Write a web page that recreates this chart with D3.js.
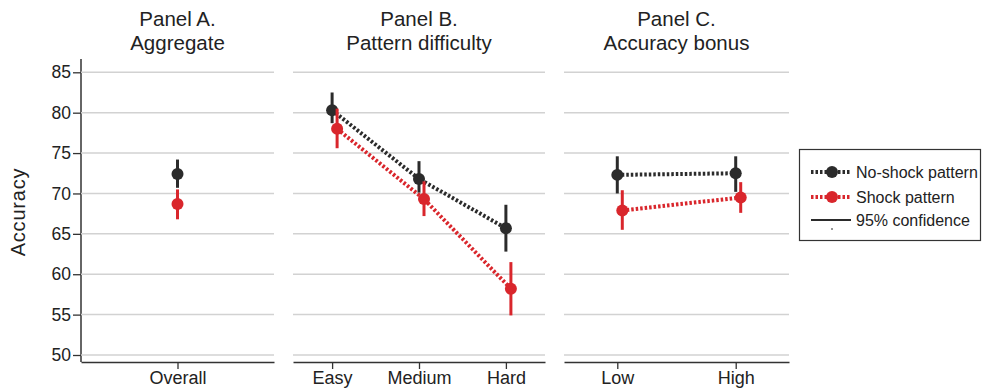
<!DOCTYPE html>
<html>
<head>
<meta charset="utf-8">
<script src="https://cdn.jsdelivr.net/npm/d3@7"></script>
<style>
  body { margin: 0; background: #fff; }
  svg { font-family: "Liberation Sans", Arial, sans-serif; }
</style>
</head>
<body>
<svg id="chart" width="982" height="391"></svg>
<script>
const yTicks = [50, 55, 60, 65, 70, 75, 80, 85];
const panelTitles = [["Panel A.", "Aggregate"], ["Panel B.", "Pattern difficulty"], ["Panel C.", "Accuracy bonus"]];
const panelCats = [["Overall"], ["Easy", "Medium", "Hard"], ["Low", "High"]];

// means and 95% CI per panel
const noShockMean = [[72.4], [80.3, 71.8, 65.7], [72.3, 72.5]];
const noShockLo = [[70.7], [78.7, 70.1, 62.8], [70.0, 70.2]];
const noShockHi = [[74.2], [82.5, 74.0, 68.6], [74.6, 74.6]];
const shockMean = [[68.7], [78.0, 69.3, 58.2], [67.9, 69.5]];
const shockLo = [[66.8], [75.6, 67.2, 54.9], [65.5, 67.6]];
const shockHi = [[70.5], [80.5, 71.5, 61.5], [70.4, 71.4]];

const legendLabels = ["No-shock pattern", "Shock pattern", "95% confidence"];

const black = '#2b2b2b', red = '#d9262c';
const svg = d3.select('#chart');

const y = d3.scaleLinear().domain([50, 85]).range([355, 72.3]);
const panelX = [[81, 274], [293, 545], [564, 789]];
const axisY = 362;

// y axis label
svg.append('text')
  .attr('transform', 'translate(25,212) rotate(-90)')
  .attr('text-anchor', 'middle')
  .style('font-size', '20px')
  .style('letter-spacing', '0.8px')
  .style('fill', '#222')
  .text('Accuracy');

// y axis ticks (panel A only)
const yAxis = svg.append('g')
  .attr('transform', `translate(${panelX[0][0]},0)`)
  .call(d3.axisLeft(y).tickValues(yTicks).tickSize(8).tickPadding(2));
yAxis.select('.domain').remove();
yAxis.selectAll('line').attr('stroke', '#333').attr('stroke-width', 1.3);
yAxis.selectAll('text').style('font-size', '17.5px').style('fill', '#222').attr('font-family', null);
svg.append('line')
  .attr('x1', panelX[0][0]).attr('x2', panelX[0][0])
  .attr('y1', 59).attr('y2', axisY)
  .attr('stroke', '#333').attr('stroke-width', 1.5);

panelCats.forEach((cats, p) => {
  const [x0, x1] = panelX[p];
  const x = d3.scalePoint().domain(cats).range([x0, x1]).padding(cats.length === 1 ? 0.5 : 0.45);
  const g = svg.append('g');

  // title
  const cx = (x0 + x1) / 2;
  panelTitles[p].forEach((t, i) => {
    g.append('text')
      .attr('x', cx).attr('y', 26 + i * 24)
      .attr('text-anchor', 'middle')
      .style('font-size', '20.5px')
      .style('fill', '#222')
      .text(t);
  });

  // gridlines
  g.selectAll('.grid')
    .data(yTicks)
    .enter().append('line')
    .attr('x1', x0).attr('x2', x1)
    .attr('y1', d => y(d)).attr('y2', d => y(d))
    .attr('stroke', '#d2d2d2').attr('stroke-width', 1.5);

  // bottom axis
  const xAxis = g.append('g')
    .attr('transform', `translate(0,${axisY})`)
    .call(d3.axisBottom(x).tickSize(7).tickPadding(2).tickSizeOuter(0));
  xAxis.select('.domain').attr('stroke', '#333').attr('stroke-width', 1.5);
  xAxis.selectAll('line').attr('stroke', '#333').attr('stroke-width', 1.3);
  xAxis.selectAll('text').style('font-size', '18px').style('fill', '#222').attr('font-family', null);

  const series = [
    { mean: noShockMean[p], lo: noShockLo[p], hi: noShockHi[p], color: black, dx: 0 },
    { mean: shockMean[p], lo: shockLo[p], hi: shockHi[p], color: red, dx: p === 0 ? 0 : 5 }
  ];

  series.forEach(s => {
    const pts = cats.map((c, i) => ({ x: x(c) + s.dx, m: s.mean[i], lo: s.lo[i], hi: s.hi[i] }));
    if (pts.length > 1) {
      g.append('path')
        .attr('d', d3.line().x(d => d.x).y(d => y(d.m))(pts))
        .attr('fill', 'none')
        .attr('stroke', s.color)
        .attr('stroke-width', 4)
        .attr('stroke-dasharray', '2.5,2');
    }
    g.selectAll(null).data(pts).enter().append('line')
      .attr('x1', d => d.x).attr('x2', d => d.x)
      .attr('y1', d => y(d.lo)).attr('y2', d => y(d.hi))
      .attr('stroke', s.color).attr('stroke-width', 3);
    g.selectAll(null).data(pts).enter().append('circle')
      .attr('cx', d => d.x).attr('cy', d => y(d.m))
      .attr('r', 6)
      .attr('fill', s.color);
  });
});

// legend
const lg = svg.append('g');
lg.append('rect')
  .attr('x', 799.5).attr('y', 149.5).attr('width', 181).attr('height', 91)
  .attr('fill', '#fff').attr('stroke', '#333').attr('stroke-width', 1.2);
const rows = [172, 197, 220];
[black, red].forEach((c, i) => {
  lg.append('line')
    .attr('x1', 811).attr('x2', 851).attr('y1', rows[i]).attr('y2', rows[i])
    .attr('stroke', c).attr('stroke-width', 4).attr('stroke-dasharray', '2.5,2');
  lg.append('circle').attr('cx', 832).attr('cy', rows[i]).attr('r', 6).attr('fill', c);
});
lg.append('line')
  .attr('x1', 811).attr('x2', 851).attr('y1', rows[2]).attr('y2', rows[2])
  .attr('stroke', black).attr('stroke-width', 2);
lg.append('line')
  .attr('x1', 832).attr('x2', 832).attr('y1', rows[2] + 8).attr('y2', rows[2] + 10)
  .attr('stroke', black).attr('stroke-width', 1);
legendLabels.forEach((t, i) => {
  lg.append('text')
    .attr('x', 856).attr('y', rows[i]).attr('dy', '0.35em')
    .style('font-size', '16px').style('fill', '#222')
    .text(t);
});
</script>
</body>
</html>
